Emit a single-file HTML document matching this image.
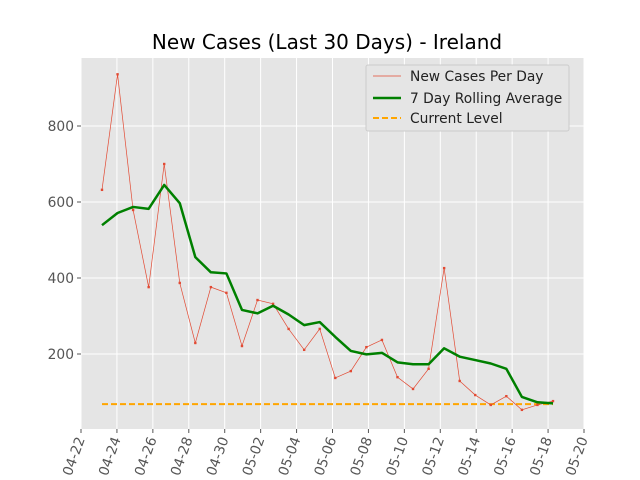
<!DOCTYPE html>
<html><head><meta charset="utf-8"><style>
body{margin:0;background:#fff;}
svg{display:block;font-family:"DejaVu Sans","Liberation Sans",sans-serif;}
</style></head><body>
<svg id="chart" width="640" height="480" viewBox="0 0 640 480">
<rect x="0" y="0" width="640" height="480" fill="#fff"/>
<text x="327" y="49" text-anchor="middle" font-size="20" fill="#000">New Cases (Last 30 Days) - Ireland</text>
<rect x="81" y="58" width="503" height="371" fill="#e5e5e5"/>
<g id="grid"></g><g id="axes"></g><g id="series"></g>
<g>
<rect x="366" y="65" width="203" height="66" fill="#e5e5e5" stroke="#ccc" stroke-width="1" rx="2"/>
<g><line x1="373" y1="76" x2="401" y2="76" stroke="#e24a33" stroke-width="0.7"/><text x="410" y="81" font-size="13.8" fill="#222">New Cases Per Day</text></g>
<g><line x1="373" y1="98" x2="401" y2="98" stroke="green" stroke-width="2.5"/><text x="410" y="103" font-size="13.8" fill="#222">7 Day Rolling Average</text></g>
<g><line x1="373" y1="118" x2="401" y2="118" stroke="orange" stroke-width="2" stroke-dasharray="6,3"/><text x="410" y="123" font-size="13.8" fill="#222">Current Level</text></g>
</g>
</svg>
<script>
const xTickLabels=["04-22","04-24","04-26","04-28","04-30","05-02","05-04","05-06","05-08","05-10","05-12","05-14","05-16","05-18","05-20"];
const yTicks=[200,400,600,800];
const newCases=[632,936,579,376,700,387,229,376,361,221,342,332,266,211,266,137,155,218,237,139,108,161,426,129,92,66,89,53,66,76];
const rollingAvg=[539,571,587,582,645,597,455,415,412,316,307,327,304,276,284,245,208,199,203,178,173,173,215,193,184,175,161,87,73,70];
const currentLevel=[68];
const NS="http://www.w3.org/2000/svg";
const X0=81,X1=584,Y0=430,PPU=0.38;
const y=v=>Y0-v*PPU;
const xTick=i=>X0+i*(X1-X0)/(xTickLabels.length-1);
const xPt=i=>102+i*(553-102)/(newCases.length-1);
function mk(tag,attrs,parent){const e=document.createElementNS(NS,tag);for(const k in attrs)e.setAttribute(k,attrs[k]);parent.appendChild(e);return e;}
const grid=document.getElementById('grid'),axes=document.getElementById('axes'),series=document.getElementById('series');
xTickLabels.forEach((lab,i)=>{
  const x=xTick(i);
  const g=mk('line',{x1:x,y1:58,x2:x,y2:429,stroke:'#fff','stroke-width':1},grid);
  
  
  const t=mk('line',{x1:x,y1:429,x2:x,y2:433,stroke:'#555','stroke-width':1},axes);
  
  
  const tx=mk('text',{x:x+4,y:439,'font-size':13.8,fill:'#555','text-anchor':'end',transform:`rotate(-70 ${x+4} 439)`},axes);
  tx.textContent=lab;
  
  
});
yTicks.forEach(v=>{
  const yy=y(v);
  const g=mk('line',{x1:81,y1:yy,x2:584,y2:yy,stroke:'#fff','stroke-width':1},grid);
  
  
  const t=mk('line',{x1:77,y1:yy,x2:81,y2:yy,stroke:'#555','stroke-width':1},axes);
  
  
  const tx=mk('text',{x:74,y:yy+5,'font-size':13.8,fill:'#555','text-anchor':'end'},axes);
  tx.textContent=v;
  
  
});
const cl=mk('line',{x1:xPt(0),y1:y(currentLevel[0]),x2:xPt(newCases.length-1),y2:y(currentLevel[0]),stroke:'orange','stroke-width':2,'stroke-dasharray':'6,3'},series);


const nc=mk('polyline',{points:newCases.map((v,i)=>xPt(i)+','+y(v)).join(' '),fill:'none',stroke:'#e24a33','stroke-width':0.7},series);


newCases.forEach((v,i)=>{
  const p=mk('rect',{x:xPt(i)-1.2,y:y(v)-1.2,width:2.4,height:2.4,fill:'#e24a33'},series);
  
  
});
const ra=mk('polyline',{points:rollingAvg.map((v,i)=>xPt(i)+','+y(v)).join(' '),fill:'none',stroke:'green','stroke-width':2.5,'stroke-linejoin':'round'},series);


</script>
</body></html>
